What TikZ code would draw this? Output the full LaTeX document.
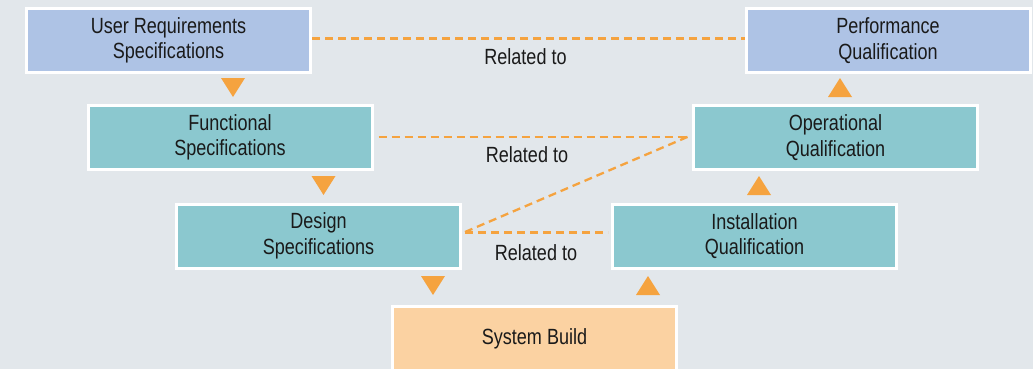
\documentclass[tikz,border=0pt]{standalone}
\usepackage{fontspec}
\setmainfont[FakeStretch=0.82]{Liberation Sans}
\definecolor{bgc}{HTML}{E2E7EB}
\definecolor{bluebox}{HTML}{AEC3E5}
\definecolor{tealbox}{HTML}{8BC8CF}
\definecolor{buildbox}{HTML}{FBD2A2}
\definecolor{orangec}{HTML}{F5A33F}
\definecolor{txt}{HTML}{1A1A1A}
\tikzset{
  box/.style={draw=white, line width=3pt, minimum width=284pt, minimum height=64pt,
    inner sep=0pt, align=center, text=txt, font=\fontsize{22}{25.5}\selectfont},
  bluestep/.style={box, fill=bluebox},
  tealstep/.style={box, fill=tealbox},
  buildstep/.style={box, fill=buildbox},
  rel/.style={draw=orangec, line width=2.3pt, dash pattern=on 8pt off 5pt},
  rellabel/.style={text=txt, font=\fontsize{22}{25.5}\selectfont, inner sep=0pt},
  downtri/.pic={\fill[orangec] (-12,0) -- (12,0) -- (0,19) -- cycle;},
  uptri/.pic={\fill[orangec] (-12,19) -- (12,19) -- (0,0) -- cycle;}
}
\begin{document}
\begin{tikzpicture}[x=1pt,y=-1pt]
\fill[bgc] (0,0) rectangle (1033,369);
\useasboundingbox (0,0) rectangle (1033,369);
\node[bluestep] (urs) at (168.5,40.5) {User Requirements\\Specifications};
\node[bluestep] (pq) at (888,40.5) {Performance\\Qualification};
\node[tealstep] (fs) at (230,137.5) {Functional\\Specifications};
\node[tealstep] (oq) at (835.5,137.5) {Operational\\Qualification};
\node[tealstep] (ds) at (318.5,236) {Design\\Specifications};
\node[tealstep] (iq) at (754.5,236) {Installation\\Qualification};
\node[buildstep] (sb) at (534.5,338.5) {System Build};
% flow triangles
\pic at (233,78) {downtri};
\pic at (323.5,176) {downtri};
\pic at (433,276) {downtri};
\pic at (648,276) {uptri};
\pic at (759,176) {uptri};
\pic at (840,78) {uptri};
% relations
\draw[rel] ([yshift=2pt]urs.east) -- ([yshift=2pt]pq.west);
\draw[rel] ([xshift=5pt,yshift=0.8pt]fs.east) -- ([xshift=-4pt,yshift=0.8pt]oq.west);
\draw[rel] ([xshift=3pt,yshift=3.5pt]ds.east) -- ([xshift=-3pt,yshift=3.5pt]iq.west);
\draw[rel] ([xshift=3pt,yshift=4pt]ds.east) -- ([xshift=-4pt,yshift=0.8pt]oq.west);
\node[rellabel] (l1) at (525.5,57) {Related to};
\node[rellabel] (l2) at (527,155) {Related to};
\node[rellabel] (l3) at (536,253) {Related to};
\end{tikzpicture}
\end{document}
